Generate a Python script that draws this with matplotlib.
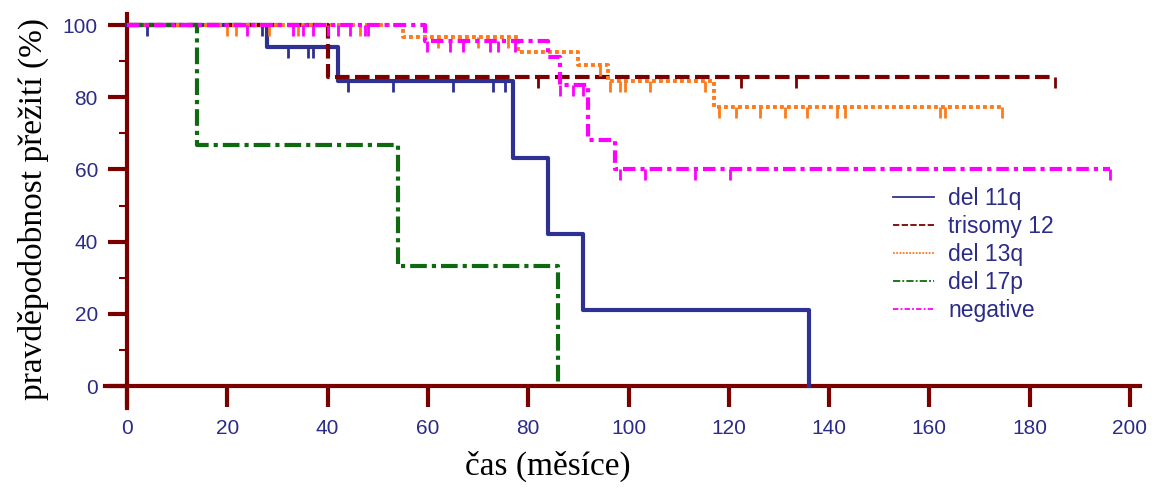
import bisect

import matplotlib
matplotlib.use("Agg")
import matplotlib.pyplot as plt
from matplotlib.lines import Line2D

plt.rcParams["font.family"] = ["Liberation Sans", "DejaVu Sans"]

# survival curves (months, % surviving)
del11q_t = [0, 28, 42, 77, 84, 91, 136]
del11q_s = [100, 93.8, 84.4, 63.3, 42.2, 21.1, 0]
del11q_cens = [4, 27, 32, 36, 37, 44, 53, 65, 73, 75.4]

tri12_t = [0, 40, 185]
tri12_s = [100, 85.7, 85.7]
tri12_cens = [82, 122.4, 133.4, 185]

del13q_t = [0, 55, 78, 90, 96, 117, 174.5]
del13q_s = [100, 96.7, 92.6, 88.9, 84.5, 77.3, 77.3]
del13q_cens = [20, 21.7, 28.3, 34, 46.5, 62, 70, 76, 94.3, 96.3, 98.3, 99.3,
               104.3, 115.3, 118, 121.4, 126.2, 131.2, 135.6, 141.6, 143.2,
               162.1, 163.1, 174.5]

del17p_t = [0, 14, 54, 86]
del17p_s = [100, 66.7, 33.3, 0]
del17p_cens = []

neg_t = [0, 59.4, 84, 86.3, 92, 97.3, 196]
neg_s = [100, 95.5, 91.1, 83.4, 68.1, 60.1, 60.1]
neg_cens = [24, 33, 35, 37, 40, 42, 44.5, 47.5, 48, 59.8, 64.4, 67, 72.3, 74,
            77.4, 86.3, 89, 91, 98.3, 103.3, 113.3, 120.2, 196]

labels = ["del 11q", "trisomy 12", "del 13q", "del 17p", "negative"]
x_ticks = list(range(0, 201, 20))
y_ticks = list(range(0, 101, 20))
y_minor = list(range(10, 100, 20))

AXIS = "#7a0000"
NAVY = "#2b2b88"


def surv_at(times, surv, t):
    # value of the step curve at time t
    i = bisect.bisect_right(times, t) - 1
    return surv[i]


groups = [
    (del11q_t, del11q_s, del11q_cens, "#2e3192", "-", 3.0),
    (tri12_t, tri12_s, tri12_cens, "#7b0000", (0, (3.5, 1.3)), 3.0),
    (del13q_t, del13q_s, del13q_cens, "#ff7a1a", (0, (1.0, 0.8)), 2.8),
    (del17p_t, del17p_s, del17p_cens, "#0f6a0f", (0, (4, 1.2, 1, 1.2)), 3.0),
    (neg_t, neg_s, neg_cens, "#ff00ff", (0, (3, 1.2, 1, 1.2)), 3.0),
]

fig = plt.figure(figsize=(11.58, 4.9), dpi=100)
ax = fig.add_axes([102 / 1158, 75 / 490, 1048 / 1158, 404.4 / 490])

handles = []
for k, (t, s, cens, col, ls, lw) in enumerate(groups):
    ax.step(t, s, where="post", color=col, linestyle=ls, linewidth=lw,
            zorder=3 + k)
    if cens:
        ax.plot(cens, [surv_at(t, s, c) for c in cens], linestyle="none",
                marker=3, markersize=8, markeredgewidth=2, color=col,
                zorder=3 + k)
    handles.append(Line2D([], [], color=col, linestyle=ls, linewidth=1.3))

ax.set_xlim(-5, 204)
ax.set_ylim(-8, 104)

for side in ["top", "right"]:
    ax.spines[side].set_visible(False)
ax.spines["left"].set_position(("data", 0))
ax.spines["bottom"].set_position(("data", 0))
ax.spines["left"].set_bounds(-6, 103)
ax.spines["bottom"].set_bounds(-4.5, 202)
for side in ["left", "bottom"]:
    ax.spines[side].set_color(AXIS)
    ax.spines[side].set_linewidth(3)

ax.set_xticks(x_ticks)
ax.set_yticks(y_ticks)
ax.set_yticks(y_minor, minor=True)
ax.tick_params(axis="x", which="major", direction="out", length=15, width=3,
               color=AXIS, labelcolor=NAVY, labelsize=15, pad=9)
ax.tick_params(axis="y", which="major", direction="out", length=14, width=3,
               color=AXIS, labelcolor=NAVY, labelsize=15, pad=7)
ax.tick_params(axis="y", which="minor", direction="out", length=6, width=1.5,
               color=AXIS)

fig.text(33 / 1158, 1 - 209 / 490, "pravděpodobnost přežití (%)",
         rotation=90, ha="center", va="center", fontsize=24,
         family=["Liberation Serif", "DejaVu Serif"])
fig.text(548 / 1158, 1 - 466 / 490, "čas (měsíce)", ha="center",
         va="center", fontsize=24, family=["Liberation Serif", "DejaVu Serif"])

ax.legend(handles, labels, loc="upper left",
          bbox_to_anchor=(893 / 1158, 1 - 187 / 490),
          bbox_transform=fig.transFigure, frameon=False, fontsize=16.5,
          labelcolor=NAVY, handlelength=1.8, handletextpad=0.6,
          labelspacing=0.22, borderpad=0, borderaxespad=0)

fig.savefig("out.png", dpi=100)
